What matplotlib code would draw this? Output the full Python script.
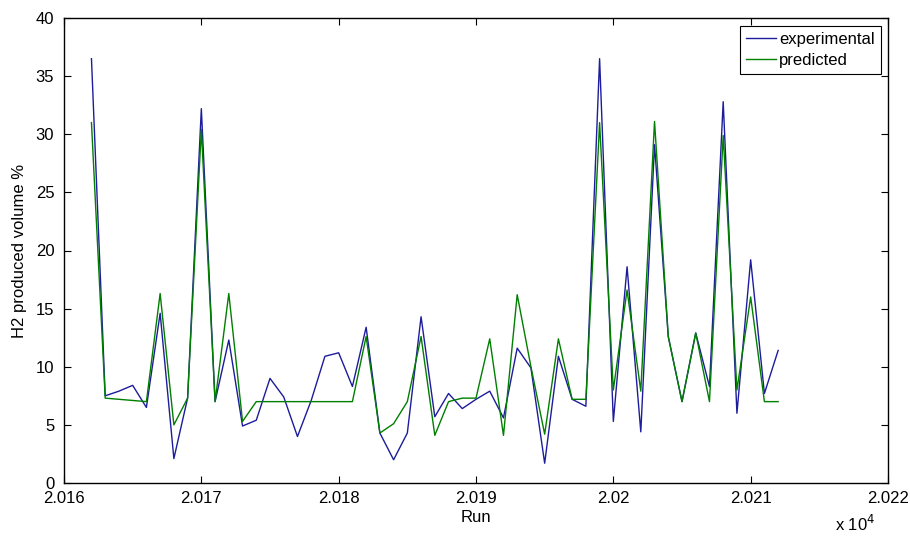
import numpy as np
import matplotlib
matplotlib.use("Agg")
import matplotlib.pyplot as plt

# run numbers 20162 .. 20212
runs = np.arange(20162, 20213)

experimental = [36.5, 7.5, 7.9, 8.4, 6.5, 14.6, 2.1, 7.3, 32.2, 7.0,
                12.3, 4.9, 5.4, 9.0, 7.4, 4.0, 7.1, 10.9, 11.2, 8.3,
                13.4, 4.3, 2.0, 4.3, 14.3, 5.7, 7.7, 6.4, 7.2, 7.9,
                5.6, 11.6, 9.9, 1.7, 10.9, 7.2, 6.6, 36.5, 5.3, 18.6,
                4.4, 29.1, 12.6, 7.0, 12.9, 8.3, 32.8, 6.0, 19.2, 7.7,
                11.4]

predicted = [31.0, 7.3, 7.2, 7.1, 7.0, 16.3, 5.0, 7.3, 30.4, 7.0,
             16.3, 5.3, 7.0, 7.0, 7.0, 7.0, 7.0, 7.0, 7.0, 7.0,
             12.6, 4.3, 5.1, 7.0, 12.6, 4.1, 7.0, 7.3, 7.3, 12.4,
             4.1, 16.2, 10.0, 4.2, 12.4, 7.2, 7.2, 31.0, 8.0, 16.6,
             7.9, 31.1, 12.6, 7.0, 12.9, 7.0, 29.9, 8.0, 16.0, 7.0,
             7.0]

x_ticks = [20160, 20170, 20180, 20190, 20200, 20210, 20220]
x_tick_labels = ["2.016", "2.017", "2.018", "2.019", "2.02", "2.021", "2.022"]
y_ticks = [0, 5, 10, 15, 20, 25, 30, 35, 40]

plt.rcParams['font.family'] = ['Liberation Sans', 'DejaVu Sans']
fs = 12

fig = plt.figure(figsize=(9.1, 5.4), dpi=100)
ax = fig.add_axes([64 / 910, 57 / 540, 824 / 910, 465 / 540])

ax.plot(runs, experimental, color='#1c1c9c', lw=1.0, label='experimental')
ax.plot(runs, predicted, color='#007f00', lw=1.0, label='predicted')

ax.set_xlim(20160, 20220)
ax.set_ylim(0, 40)
ax.set_xticks(x_ticks)
ax.set_xticklabels(x_tick_labels)
ax.set_yticks(y_ticks)
ax.tick_params(direction='in', length=5, width=0.8, top=True, right=True,
               labelsize=fs, colors='black')
ax.tick_params(axis='x', pad=6)
ax.tick_params(axis='y', pad=7)
for s in ax.spines.values():
    s.set_linewidth(1.0)

ax.set_xlabel('Run', fontsize=fs, labelpad=3)
ax.set_ylabel('H2 produced volume %', fontsize=fs, labelpad=6)
fig.text(855 / 910, 1 - 524 / 540, r'x 10$^{4}$', fontsize=fs,
         ha='center', va='center')

leg = ax.legend(loc='upper right', bbox_to_anchor=(0.991, 0.982),
                fancybox=False, edgecolor='black', framealpha=1,
                fontsize=fs, handlelength=1.8, handletextpad=0.2,
                borderpad=0.35, labelspacing=0.35, borderaxespad=0)
leg.get_frame().set_linewidth(0.8)

fig.savefig('out.png', dpi=100)
